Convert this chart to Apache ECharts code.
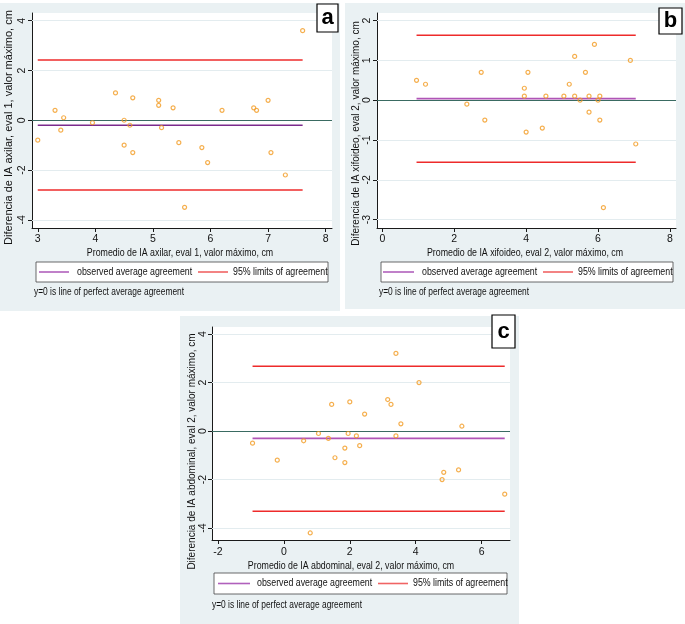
<!DOCTYPE html>
<html><head><meta charset="utf-8">
<script src="https://cdn.jsdelivr.net/npm/echarts@6/dist/echarts.min.js"></script>
<style>html,body{margin:0;padding:0;background:#fff}#c{width:685px;height:624px}</style>
</head><body><div id="c"></div>
<script>
// ---- Panel a: axilar, eval 1 ----
const aAvg  = [3.0,3.3,3.4,3.45,3.95,4.35,4.5,4.5,4.6,4.65,4.65,5.1,5.1,5.15,5.35,5.45,5.55,5.85,5.95,6.2,6.75,6.8,7.0,7.05,7.3,7.6];
const aDiff = [-0.8,0.4,-0.4,0.1,-0.1,1.1,0.0,-1.0,-0.2,0.9,-1.3,0.8,0.6,-0.3,0.5,-0.9,-3.5,-1.1,-1.7,0.4,0.5,0.4,0.8,-1.3,-2.2,3.6];
const aMean = -0.2, aLower = -2.8, aUpper = 2.42;
const aXTicks = [3,4,5,6,7,8];
const aYTicks = [-4,-2,0,2,4];
const aXTitle = 'Promedio de IA axilar, eval 1, valor máximo, cm';
const aYTitle = 'Diferencia de IA axilar, eval 1, valor máximo, cm';

// ---- Panel b: xifoideo, eval 2 ----
const bAvg  = [0.95,1.2,2.35,2.75,2.85,3.95,3.95,4.0,4.05,4.45,4.55,5.05,5.2,5.35,5.35,5.5,5.65,5.75,5.75,5.9,6.0,6.05,6.05,6.15,6.9,7.05];
const bDiff = [0.5,0.4,-0.1,0.7,-0.5,0.3,0.1,-0.8,0.7,-0.7,0.1,0.1,0.4,1.1,0.1,0.0,0.7,0.1,-0.3,1.4,0.0,0.1,-0.5,-2.7,1.0,-1.1];
const bMean = 0.04, bLower = -1.56, bUpper = 1.63;
const bXTicks = [0,2,4,6,8];
const bYTicks = [-3,-2,-1,0,1,2];
const bXTitle = 'Promedio de IA xifoideo, eval 2, valor máximo, cm';
const bYTitle = 'Diferencia de IA xifoideo, eval 2, valor máximo, cm';

// ---- Panel c: abdominal, eval 2 ----
const cAvg  = [-0.95,-0.2,0.6,0.8,1.05,1.35,1.45,1.55,1.85,1.85,1.95,2.0,2.2,2.3,2.45,3.15,3.25,3.4,3.4,3.55,4.1,4.8,4.85,5.3,5.4,6.7];
const cDiff = [-0.5,-1.2,-0.4,-4.2,-0.1,-0.3,1.1,-1.1,-0.7,-1.3,-0.1,1.2,-0.2,-0.6,0.7,1.3,1.1,3.2,-0.2,0.3,2.0,-2.0,-1.7,-1.6,0.2,-2.6];
const cMean = -0.3, cLower = -3.3, cUpper = 2.67;
const cXTicks = [-2,0,2,4,6];
const cYTicks = [-4,-2,0,2,4];
const cXTitle = 'Promedio de IA abdominal, eval 2, valor máximo, cm';
const cYTitle = 'Diferencia de IA abdominal, eval 2, valor máximo, cm';

const legendMean = 'observed average agreement';
const legendLimits = '95% limits of agreement';
const noteText = 'y=0 is line of perfect average agreement';
const panelLabels = ['a','b','c'];

// ---- styling / layout ----
const SANS = "'Liberation Sans',Arial,sans-serif";
const BG = '#eaf1f3', GRIDC = '#e3ecef', ZERO = '#3a6b62', RED = '#ee2b2b', ORANGE = '#f29b22', AXIS = '#1a1a1a';
const SQUEEZE = 0.84;

const panels = [
  {avg:aAvg, diff:aDiff, mean:aMean, lo:aLower, hi:aUpper, xt:aXTicks, yt:aYTicks, xTitle:aXTitle, yTitle:aYTitle,
   purple:'#7b2a8c', legPurple:'#b060bc', grid:{left:32, top:13, width:300, height:215}, xr:[2.9,8.11], yr:[-4.33,4.31],
   xLabMargin:6, xName:[180,253], yLabMargin:4, yNameGap:18, yPad:[0,14,0,0], yFontSize:11,
   bg:[0,3,340,308], box:[317,4,21,28], legend:[36,262,292,20, 3,33,41, 162,192,197], note:[34,292]},
  {avg:bAvg, diff:bDiff, mean:bMean, lo:bLower, hi:bUpper, xt:bXTicks, yt:bYTicks, xTitle:bXTitle, yTitle:bYTitle,
   purple:'#b055b6', legPurple:'#b060bc', grid:{left:377, top:13, width:299, height:215}, xr:[-0.15,8.17], yr:[-3.21,2.19],
   xLabMargin:6, xName:[525,253], yLabMargin:4, yNameGap:16, yPad:[0,26,0,0], yFontSize:10,
   bg:[345,3,340,306], box:[659,8,23,26], legend:[381,262,292,20, 2,33,41, 162,192,197], note:[379,292]},
  {avg:cAvg, diff:cDiff, mean:cMean, lo:cLower, hi:cUpper, xt:cXTicks, yt:cYTicks, xTitle:cXTitle, yTitle:cYTitle,
   purple:'#b055b6', legPurple:'#b060bc', grid:{left:212, top:327, width:298, height:213}, xr:[-2.18,6.86], yr:[-4.49,4.29],
   xLabMargin:7, xName:[351,566.5], yLabMargin:3, yNameGap:13, yPad:[0,36,0,0], yFontSize:10,
   bg:[180,316,339,308], box:[492,315,23,33], legend:[214,573,293,21, 4,36,43, 164,194,199], note:[212,605]}
];

const grids = [], xAxes = [], yAxes = [], series = [], graphics = [];

function squeezedText(x, y, text, size, align, z) {
  return {type:'text', z:z || 101, x:x, y:y, scaleX:SQUEEZE, scaleY:1,
    style:{text:text, fill:'#111', font:size + "px " + SANS, align:align || 'left', verticalAlign:'middle'}};
}

panels.forEach((p, i) => {
  grids.push(Object.assign({show:true, backgroundColor:'#ffffff', borderWidth:0}, p.grid));
  xAxes.push({
    gridIndex:i, type:'value', min:p.xr[0], max:p.xr[1],
    axisLine:{show:true, onZero:false, lineStyle:{color:AXIS, width:1}},
    axisTick:{show:true, customValues:p.xt, length:4, lineStyle:{color:AXIS}},
    axisLabel:{customValues:p.xt, color:'#111', fontSize:10.5, fontFamily:SANS, margin:p.xLabMargin},
    splitLine:{show:false}
  });
  yAxes.push({
    gridIndex:i, type:'value', min:p.yr[0], max:p.yr[1],
    axisLine:{show:true, onZero:false, lineStyle:{color:AXIS, width:1}},
    axisTick:{show:true, customValues:p.yt, length:4, lineStyle:{color:AXIS}},
    axisLabel:{customValues:p.yt, rotate:90, color:'#111', fontSize:10.5, fontFamily:SANS, margin:p.yLabMargin},
    splitLine:{show:false},
    name:p.yTitle, nameLocation:'middle', nameGap:p.yNameGap, nameRotate:90,
    nameTextStyle:{color:'#111', fontSize:p.yFontSize, fontFamily:SANS, padding:p.yPad}
  });
  const x0 = Math.min(...p.avg), x1 = Math.max(...p.avg);
  // gridlines + zero line
  series.push({
    type:'line', xAxisIndex:i, yAxisIndex:i, data:[], silent:true, z:1,
    markLine:{silent:true, symbol:'none', animation:false, label:{show:false},
      data: p.yt.filter(v => v !== 0).map(v => ({yAxis:v, lineStyle:{color:GRIDC, width:1, type:'solid'}}))
        .concat([{yAxis:0, lineStyle:{color:ZERO, width:1.2, type:'solid'}}])}
  });
  series.push({type:'line', xAxisIndex:i, yAxisIndex:i, z:3, showSymbol:false, silent:true, animation:false,
    data:[[x0,p.mean],[x1,p.mean]], lineStyle:{color:p.purple, width:1.6}});
  series.push({type:'line', xAxisIndex:i, yAxisIndex:i, z:3, showSymbol:false, silent:true, animation:false,
    data:[[x0,p.hi],[x1,p.hi]], lineStyle:{color:RED, width:1.5}});
  series.push({type:'line', xAxisIndex:i, yAxisIndex:i, z:3, showSymbol:false, silent:true, animation:false,
    data:[[x0,p.lo],[x1,p.lo]], lineStyle:{color:RED, width:1.5}});
  series.push({type:'scatter', xAxisIndex:i, yAxisIndex:i, z:5, animation:false, symbol:'circle', symbolSize:4,
    data:p.avg.map((v,k) => [v, p.diff[k]]),
    itemStyle:{color:'rgba(255,255,255,0)', borderColor:ORANGE, borderWidth:1.2}});

  // panel background
  graphics.push({type:'rect', z:-100, shape:{x:p.bg[0], y:p.bg[1], width:p.bg[2], height:p.bg[3]}, style:{fill:BG}});
  // x-axis title
  graphics.push(squeezedText(p.xName[0], p.xName[1], p.xTitle, 10.5, 'center'));
  // label box
  graphics.push({type:'rect', z:100, shape:{x:p.box[0], y:p.box[1], width:p.box[2], height:p.box[3]}, style:{fill:'#fff', stroke:'#000', lineWidth:1.2}});
  graphics.push({type:'text', z:101, x:p.box[0]+p.box[2]/2, y:p.box[1]+p.box[3]/2,
    style:{text:panelLabels[i], fill:'#000', font:"bold 22px " + SANS, align:'center', verticalAlign:'middle'}});
  // legend
  const L = p.legend, ly = L[1] + L[3]/2;
  graphics.push({type:'rect', z:100, shape:{x:L[0], y:L[1], width:L[2], height:L[3]}, style:{fill:'#fff', stroke:'#444', lineWidth:0.8}});
  graphics.push({type:'line', z:101, shape:{x1:L[0]+L[4], y1:ly, x2:L[0]+L[5], y2:ly}, style:{stroke:p.legPurple, lineWidth:1.6}});
  graphics.push(squeezedText(L[0]+L[6], ly, legendMean, 10.5));
  graphics.push({type:'line', z:101, shape:{x1:L[0]+L[7], y1:ly, x2:L[0]+L[8], y2:ly}, style:{stroke:'#f06464', lineWidth:1.6}});
  graphics.push(squeezedText(L[0]+L[9], ly, legendLimits, 10.5));
  // note
  graphics.push(squeezedText(p.note[0], p.note[1], noteText, 10));
});

const chart = echarts.init(document.getElementById('c'), null, {renderer:'canvas'});
chart.setOption({
  animation:false,
  backgroundColor:'#ffffff',
  grid:grids, xAxis:xAxes, yAxis:yAxes, series:series,
  graphic:{elements:graphics}
});
</script>
</body></html>
